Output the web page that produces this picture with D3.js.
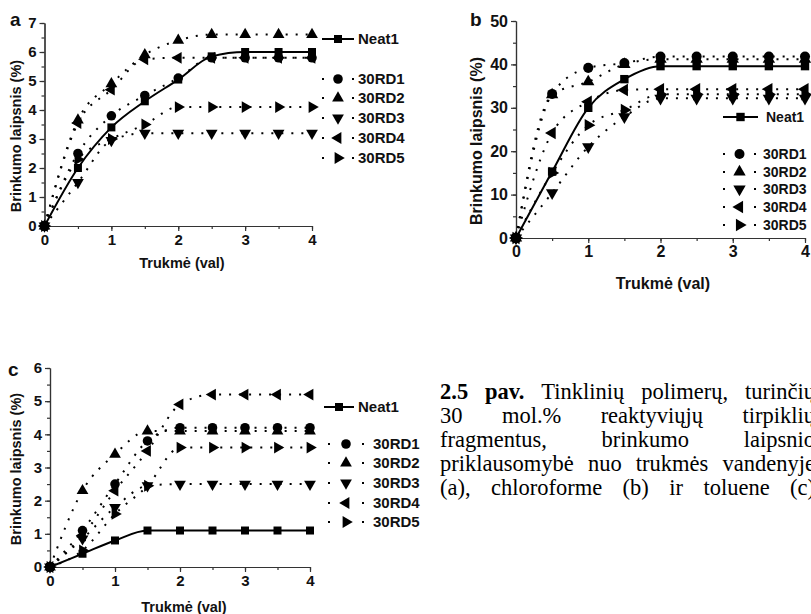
<!DOCTYPE html>
<html>
<head>
<meta charset="utf-8">
<script src="https://cdn.jsdelivr.net/npm/d3@7"></script>
<style>
  body { margin: 0; background: #fff; }
  svg { display: block; }
  text { font-family: Arial, "Liberation Sans", sans-serif; font-weight: bold; fill: #111; }
  .caption text { font-family: "Times New Roman", "Liberation Serif", serif; font-weight: normal; fill: #000; }
</style>
</head>
<body>
<div id="chart"></div>
<script>
// laikas (val) - bendras visiems grafikams
const trukme = [0, 0.5, 1, 1.5, 2, 2.5, 3, 3.5, 4];
const serijos = ["Neat1", "30RD1", "30RD2", "30RD3", "30RD4", "30RD5"];

// (a) vandenyje
const vandNeat1 = [0, 2.0, 3.4, 4.3, 5.05, 5.85, 6.0, 6.0, 6.0];
const vandRD1 = [0, 2.5, 3.8, 4.5, 5.1, 5.8, 5.8, 5.8, 5.8];
const vandRD2 = [0, 3.65, 4.9, 5.9, 6.4, 6.6, 6.6, 6.6, 6.6];
const vandRD3 = [0, 1.5, 2.95, 3.2, 3.2, 3.2, 3.2, 3.2, 3.2];
const vandRD4 = [0, 3.55, 4.7, 5.75, 5.8, 5.8, 5.8, 5.8, 5.8];
const vandRD5 = [0, 2.3, 3.0, 3.5, 4.1, 4.1, 4.1, 4.1, 4.1];

// (b) chloroforme
const chlNeat1 = [0, 15.3, 30, 36.6, 39.6, 39.6, 39.6, 39.6, 39.6];
const chlRD1 = [0, 33.2, 39.2, 40.3, 41.8, 41.8, 41.8, 41.8, 41.8];
const chlRD2 = [0, 33, 36, 40, 41.2, 41.2, 41.2, 41.2, 41.2];
const chlRD3 = [0, 10.4, 21, 27.9, 32.2, 32.2, 32.2, 32.2, 32.2];
const chlRD4 = [0, 24.2, 31.4, 34.1, 34.3, 34.3, 34.3, 34.3, 34.3];
const chlRD5 = [0, 15, 26, 29.5, 33.1, 33.1, 33.1, 33.1, 33.1];

// (c) toluene
const tolNeat1 = [0, 0.4, 0.8, 1.1, 1.1, 1.1, 1.1, 1.1, 1.1];
const tolRD1 = [0, 1.1, 2.5, 3.8, 4.2, 4.2, 4.2, 4.2, 4.2];
const tolRD2 = [0, 2.3, 3.4, 4.1, 4.1, 4.1, 4.1, 4.1, 4.1];
const tolRD3 = [0, 0.85, 1.8, 2.45, 2.5, 2.5, 2.5, 2.5, 2.5];
const tolRD4 = [0, 0.95, 2.3, 3.5, 4.9, 5.2, 5.2, 5.2, 5.2];
const tolRD5 = [0, 0.5, 1.6, 2.45, 3.6, 3.6, 3.6, 3.6, 3.6];

const xTicks = [0, 1, 2, 3, 4];
const yTicksA = [0, 1, 2, 3, 4, 5, 6, 7];
const yTicksB = [0, 10, 20, 30, 40, 50];
const yTicksC = [0, 1, 2, 3, 4, 5, 6];

const ySavadas = "Brinkumo laipsnis (%)";
const xSavadas = "Trukmė (val)";

const paraseLines = [
  "2.5 pav. Tinklinių polimerų, turinčių",
  "30 mol.% reaktyviųjų tirpiklių",
  "fragmentus, brinkumo laipsnio",
  "priklausomybė nuo trukmės vandenyje",
  "(a), chloroforme (b) ir toluene (c)"
];

// markeriai: kvadratas, apskritimas, trikampiai
const markers = [
  { type: d3.symbolSquare, size: 64, rot: 0 },
  { type: d3.symbolCircle, size: 72, rot: 0 },
  { type: d3.symbolTriangle, size: 60, rot: 0 },
  { type: d3.symbolTriangle, size: 60, rot: 180 },
  { type: d3.symbolTriangle, size: 60, rot: -90 },
  { type: d3.symbolTriangle, size: 60, rot: 90 }
];

const svg = d3.select("#chart").append("svg")
  .attr("width", 811)
  .attr("height", 614);

function drawPanel(p) {
  const x = d3.scaleLinear().domain([0, 4]).range([p.left, p.right]);
  const y = d3.scaleLinear().domain([0, p.yMax]).range([p.bottom, p.top]);
  const g = svg.append("g");

  // smulkios padalos
  g.append("g").attr("transform", "translate(0," + p.bottom + ")")
    .call(d3.axisBottom(x).tickValues(d3.range(0, 4.01, 0.5)).tickSize(3).tickSizeOuter(0).tickFormat(""));
  g.append("g").attr("transform", "translate(" + p.left + ",0)")
    .call(d3.axisLeft(y).tickValues(d3.range(0, p.yMax + 0.01, p.minor)).tickSize(3).tickSizeOuter(0).tickFormat(""));

  // pagrindines padalos
  const xa = g.append("g").attr("transform", "translate(0," + p.bottom + ")")
    .call(d3.axisBottom(x).tickValues(xTicks).tickSize(5).tickSizeOuter(0).tickPadding(3).tickFormat(d3.format("d")));
  const ya = g.append("g").attr("transform", "translate(" + p.left + ",0)")
    .call(d3.axisLeft(y).tickValues(p.yTicks).tickSize(5).tickSizeOuter(0).tickPadding(3).tickFormat(d3.format("d")));

  g.selectAll(".domain, .tick line").attr("stroke", "#333").attr("stroke-width", 1.2);
  xa.selectAll("text").attr("font-size", p.tickFont).attr("font-family", null).attr("fill", "#111");
  ya.selectAll("text").attr("font-size", p.tickFont).attr("font-family", null).attr("fill", "#111");

  // asiu pavadinimai
  g.append("text")
    .attr("transform", "translate(" + p.yTitle[0] + "," + p.yTitle[1] + ") rotate(-90)")
    .attr("text-anchor", "middle")
    .attr("font-size", p.titleFont)
    .text(ySavadas);
  g.append("text")
    .attr("x", p.xTitle[0]).attr("y", p.xTitle[1])
    .attr("text-anchor", "middle")
    .attr("font-size", p.titleFont)
    .text(xSavadas);
  g.append("text")
    .attr("x", p.letter[0]).attr("y", p.letter[1])
    .attr("font-size", 19)
    .text(p.name);

  const line = d3.line().curve(d3.curveMonotoneX);

  // linijos (taskines - RD, istisine - Neat1)
  p.series.slice().reverse().forEach(function(vals, ri) {
    const i = p.series.length - 1 - ri;
    const pts = trukme.map((t, j) => [x(t), y(vals[j])]);
    g.append("path")
      .attr("d", line(pts))
      .attr("fill", "none")
      .attr("stroke", "#000")
      .attr("stroke-width", 2)
      .attr("stroke-dasharray", i === 0 ? null : "2,8");
  });
  p.series.slice().reverse().forEach(function(vals, ri) {
    const i = p.series.length - 1 - ri;
    const m = markers[i];
    g.selectAll(null)
      .data(trukme.map((t, j) => [x(t), y(vals[j])]))
      .enter()
      .append("path")
      .attr("transform", d => "translate(" + d[0] + "," + d[1] + ") rotate(" + m.rot + ")")
      .attr("d", d3.symbol(m.type, m.size * p.mScale)())
      .attr("fill", "#000");
  });

  // legenda
  const L = p.legend;
  serijos.forEach(function(name, i) {
    const ly = i === 0 ? L.yNeat : L.yRD[i - 1];
    const x0 = i === 0 ? L.neatX0 : L.rdX0;
    const x1 = i === 0 ? L.neatX1 : L.rdX1;
    const tx = i === 0 ? L.neatTx : L.rdTx;
    g.append("line")
      .attr("x1", x0).attr("x2", x1).attr("y1", ly).attr("y2", ly)
      .attr("stroke", "#000").attr("stroke-width", 2)
      .attr("stroke-dasharray", i === 0 ? null : "2," + (x1 - x0 - 4));
    g.append("path")
      .attr("transform", "translate(" + (x0 + x1) / 2 + "," + ly + ") rotate(" + markers[i].rot + ")")
      .attr("d", d3.symbol(markers[i].type, markers[i].size * p.mScale)());
    g.append("text")
      .attr("x", tx).attr("y", ly + L.font * 0.36)
      .attr("font-size", L.font)
      .text(name);
  });
}

drawPanel({
  name: "a", letter: [10, 26],
  left: 44.5, right: 312, top: 23, bottom: 226, yMax: 7, minor: 0.5, yTicks: yTicksA,
  tickFont: 15, titleFont: 14.5, mScale: 1,
  yTitle: [21, 136], xTitle: [182, 268],
  series: [vandNeat1, vandRD1, vandRD2, vandRD3, vandRD4, vandRD5],
  legend: { neatX0: 322, neatX1: 354, neatTx: 358, rdX0: 322, rdX1: 354, rdTx: 358,
            yNeat: 39, yRD: [79, 98, 118, 138, 158], font: 15 }
});

drawPanel({
  name: "b", letter: [470, 26],
  left: 516, right: 805, top: 21, bottom: 238, yMax: 50, minor: 5, yTicks: yTicksB,
  tickFont: 16, titleFont: 16, mScale: 1.1,
  yTitle: [482, 141], xTitle: [663, 289],
  series: [chlNeat1, chlRD1, chlRD2, chlRD3, chlRD4, chlRD5],
  legend: { neatX0: 723, neatX1: 758, neatTx: 766, rdX0: 723, rdX1: 756, rdTx: 763,
            yNeat: 117, yRD: [154, 172, 189, 207, 225], font: 14 }
});

drawPanel({
  name: "c", letter: [8, 376],
  left: 50, right: 310, top: 368, bottom: 567, yMax: 6, minor: 0.5, yTicks: yTicksC,
  tickFont: 15, titleFont: 14.5, mScale: 1,
  yTitle: [21, 469], xTitle: [184, 612],
  series: [tolNeat1, tolRD1, tolRD2, tolRD3, tolRD4, tolRD5],
  legend: { neatX0: 324, neatX1: 354, neatTx: 358, rdX0: 328, rdX1: 364, rdTx: 373,
            yNeat: 407, yRD: [444, 463, 483, 503, 522], font: 15 }
});

// paveikslo parase, isliginta per abu kraštus
const cap = svg.append("g").attr("class", "caption");
const capX0 = 440, capX1 = 815, capY0 = 399, capLh = 24, capFont = 22.5;
paraseLines.forEach(function(lineText, i) {
  const words = lineText.split(" ");
  const nodes = words.map(function(w, k) {
    return cap.append("text")
      .attr("y", capY0 + i * capLh)
      .attr("font-size", capFont)
      .style("font-weight", i === 0 && k < 2 ? "bold" : "normal")
      .text(w);
  });
  const widths = nodes.map(n => n.node().getComputedTextLength());
  const gap = (capX1 - capX0 - d3.sum(widths)) / (words.length - 1);
  let cx = capX0;
  nodes.forEach(function(n, k) {
    n.attr("x", cx);
    cx += widths[k] + gap;
  });
});
</script>
</body>
</html>
